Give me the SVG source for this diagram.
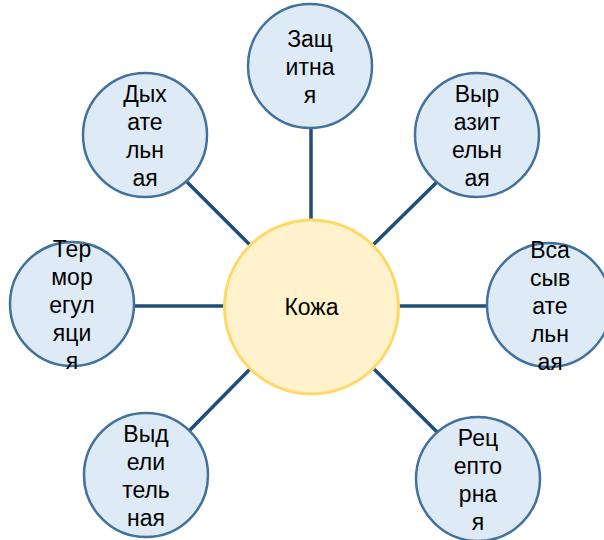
<svg xmlns="http://www.w3.org/2000/svg" width="604" height="540" viewBox="0 0 604 540">
<style>
.sat{fill:#DEEBF7;stroke:#41719C;stroke-width:2.5}
.ctr{fill:#FFF2CC;stroke:#FFD966;stroke-width:3}
.t{font-family:"Liberation Sans",Arial,sans-serif;font-size:23px;fill:#000;text-anchor:middle}
.ln{stroke:#1F4E79;stroke-width:3.5;fill:none}
</style>
<rect width="604" height="540" fill="#fff"/>
<g id="connectors">
<line class="ln" x1="311" y1="128" x2="311" y2="221"/>
<line class="ln" x1="437" y1="182" x2="373" y2="245"/>
<line class="ln" x1="398" y1="306" x2="487" y2="306"/>
<line class="ln" x1="374" y1="369" x2="437" y2="432"/>
<line class="ln" x1="250" y1="369" x2="189" y2="431"/>
<line class="ln" x1="134" y1="306" x2="225" y2="306"/>
<line class="ln" x1="187" y1="182" x2="250" y2="245"/>
</g>
<g id="center">
<circle class="ctr" cx="311.5" cy="307" r="87"/>
<text class="t" x="311.5" y="315">Кожа</text>
</g>
<g id="n-top">
<circle class="sat" cx="310" cy="66" r="62"/>
<text class="t" x="310" y="47">Защ</text>
<text class="t" x="310" y="75">итна</text>
<text class="t" x="310" y="103">я</text>
</g>
<g id="n-topright">
<circle class="sat" cx="477" cy="135" r="62"/>
<text class="t" x="477" y="102">Выр</text>
<text class="t" x="477" y="130">азит</text>
<text class="t" x="477" y="158">ельн</text>
<text class="t" x="477" y="186">ая</text>
</g>
<g id="n-right">
<circle class="sat" cx="549" cy="305" r="62"/>
<text class="t" x="550" y="258">Вса</text>
<text class="t" x="550" y="286">сыв</text>
<text class="t" x="550" y="314">ате</text>
<text class="t" x="550" y="342">льн</text>
<text class="t" x="550" y="370">ая</text>
</g>
<g id="n-bottomright">
<circle class="sat" cx="478" cy="479" r="62"/>
<text class="t" x="478" y="446">Рец</text>
<text class="t" x="478" y="474">епто</text>
<text class="t" x="478" y="502">рна</text>
<text class="t" x="478" y="530">я</text>
</g>
<g id="n-bottomleft">
<circle class="sat" cx="146" cy="475" r="62"/>
<text class="t" x="146" y="442">Выд</text>
<text class="t" x="146" y="470">ели</text>
<text class="t" x="146" y="498">тель</text>
<text class="t" x="146" y="526">ная</text>
</g>
<g id="n-left">
<circle class="sat" cx="72" cy="304" r="62"/>
<text class="t" x="72" y="257">Тер</text>
<text class="t" x="72" y="285">мор</text>
<text class="t" x="72" y="313">егул</text>
<text class="t" x="72" y="341">яци</text>
<text class="t" x="72" y="369">я</text>
</g>
<g id="n-topleft">
<circle class="sat" cx="145" cy="135" r="62"/>
<text class="t" x="145" y="102">Дых</text>
<text class="t" x="145" y="130">ате</text>
<text class="t" x="145" y="158">льн</text>
<text class="t" x="145" y="186">ая</text>
</g>
</svg>
